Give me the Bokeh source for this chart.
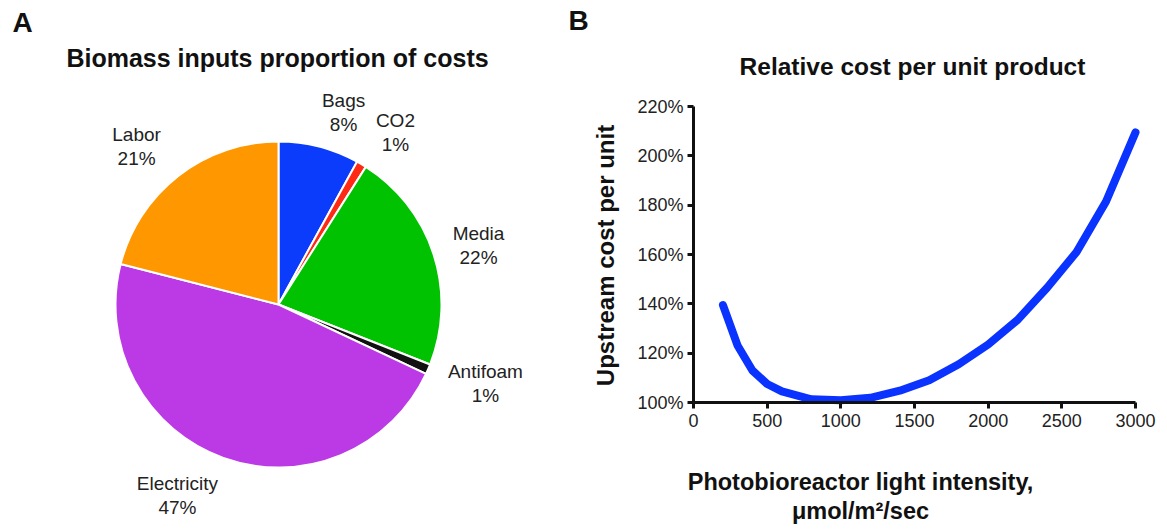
import math
from bokeh.plotting import figure
from bokeh.layouts import row
from bokeh.models import (ColumnDataSource, Range1d, Label, FixedTicker,
                          PrintfTickFormatter)
from bokeh.core.properties import value
from bokeh.embed import file_html
from bokeh.resources import INLINE

# ---------------- data ----------------
pie_labels = ["Bags", "CO2", "Media", "Antifoam", "Electricity", "Labor"]
pie_values = [8, 1, 22, 1, 47, 21]
pie_colors = ["#0b3cfc", "#ff2a14", "#00c200", "#111111", "#bb3ae6", "#ff9700"]

light = [200, 300, 400, 500, 600, 800, 1000, 1200, 1400, 1600, 1800,
         2000, 2200, 2400, 2600, 2800, 3000]
cost = [139.5, 123.0, 113.0, 107.5, 104.5, 101.3, 100.9, 101.9, 104.8,
        109.0, 115.5, 123.5, 133.5, 146.5, 161.0, 181.5, 209.5]

x_ticks = [0, 500, 1000, 1500, 2000, 2500, 3000]
y_ticks = [100, 120, 140, 160, 180, 200, 220]

FONT = "Liberation Sans"
H = 529
W_A, W_B = 560, 607

# ---------------- panel A: pie (1 data unit = 1 px, origin at pie centre) ----------------
CX, CY, R = 278, 304, 163
pa = figure(width=W_A, height=H, output_backend="svg", toolbar_location=None,
            x_range=Range1d(-CX, W_A - CX), y_range=Range1d(CY - H, CY),
            x_axis_location=None, y_axis_location=None, min_border=0)
pa.outline_line_color = None
pa.grid.visible = False

total = float(sum(pie_values))
starts, ends, mids = [], [], []
c = 0.0
for v in pie_values:
    c0, c1 = c / total, (c + v) / total
    starts.append(math.pi / 2 - 2 * math.pi * c0)
    ends.append(math.pi / 2 - 2 * math.pi * c1)
    mids.append((c0 + c1) / 2 * 360.0)
    c += v

wsrc = ColumnDataSource(dict(start=starts, end=ends, color=pie_colors))
pa.wedge(x=0, y=0, radius=R, start_angle="start", end_angle="end",
         direction="clock", fill_color="color", line_color="white",
         line_width=2, source=wsrc)

# label layout: distance from centre and angle nudge (degrees)
lab_r = [203, 208, 208.5, 221.5, 216, 212.5]
lab_dt = [4.3, 3.6, 1.6, -2.5, 8.1, -4.1]
lx, ly, lt = [], [], []
for lab, v, m, r, dt in zip(pie_labels, pie_values, mids, lab_r, lab_dt):
    a = math.radians(m + dt)
    lx.append(r * math.sin(a))
    ly.append(r * math.cos(a))
    lt.append(f"{lab}\n{v}%")
lsrc = ColumnDataSource(dict(x=lx, y=ly, t=lt))
pa.text(x="x", y="y", text="t", source=lsrc, text_align="center",
        text_baseline="middle", text_font=value(FONT),
        text_font_size="19px", text_color="#222222", text_line_height=1.15)

def pa_xy(px, py):
    return px - CX, CY - py

ax_, ay_ = pa_xy(22, 22)
pa.add_layout(Label(x=ax_, y=ay_, text="A", text_font=FONT,
                    text_font_style="bold", text_font_size="28px",
                    text_align="center", text_baseline="middle",
                    text_color="#111111"))
tx_, ty_ = pa_xy(277, 57)
pa.add_layout(Label(x=tx_, y=ty_, text="Biomass inputs proportion of costs",
                    text_font=FONT, text_font_style="bold",
                    text_font_size="25px", text_align="center",
                    text_baseline="middle", text_color="#111111"))

# ---------------- panel B: line ----------------
FX0 = W_A                      # page x of panel B's left edge
X0P, X1P = 693, 1135           # page x of 0 and 3000
Y0P, Y1P = 402, 106            # page y of 100% and 220%
sx = (x_ticks[-1] - x_ticks[0]) / (X1P - X0P)
sy = (y_ticks[-1] - y_ticks[0]) / (Y0P - Y1P)

def bx(px):
    return x_ticks[0] + (px - X0P) * sx

def by(py):
    return y_ticks[0] + (Y0P - py) * sy

pb = figure(width=W_B, height=H, output_backend="svg", toolbar_location=None,
            x_range=Range1d(bx(FX0), bx(FX0 + W_B)),
            y_range=Range1d(by(H), by(0)), min_border=0)
pb.outline_line_color = None
pb.grid.visible = False

pb.line(light, cost, line_width=8, line_color="#0a33ff",
        line_cap="round", line_join="round")

pb.xaxis.fixed_location = y_ticks[0]
pb.yaxis.fixed_location = x_ticks[0]
pb.xaxis.bounds = (x_ticks[0], x_ticks[-1])
pb.yaxis.bounds = (y_ticks[0], y_ticks[-1])

for ax in (pb.xaxis[0], pb.yaxis[0]):
    ax.axis_line_width = 3
    ax.axis_line_color = "#111111"
    ax.major_tick_line_width = 3
    ax.major_tick_line_color = "#111111"
    ax.major_tick_out = 6
    ax.major_tick_in = 0
    ax.minor_tick_line_color = None
    ax.major_label_text_font = FONT
    ax.major_label_text_font_size = "18px"
    ax.major_label_text_color = "#222222"

pb.xaxis.ticker = FixedTicker(ticks=x_ticks)
pb.yaxis.ticker = FixedTicker(ticks=y_ticks)
pb.yaxis.formatter = PrintfTickFormatter(format="%d%%")
pb.xaxis.major_label_standoff = 5
pb.yaxis.major_label_standoff = 4

pb.add_layout(Label(x=bx(605), y=by(255), text="Upstream cost per unit",
                    angle=math.pi / 2, text_font=FONT, text_font_style="bold",
                    text_font_size="24px", text_align="center",
                    text_baseline="middle", text_color="#111111"))
pb.add_layout(Label(x=bx(860), y=by(496),
                    text="Photobioreactor light intensity,\nμmol/m²/sec",
                    text_font=FONT, text_font_style="bold",
                    text_font_size="23.5px", text_align="center",
                    text_baseline="middle", text_color="#111111",
                    text_line_height=1.1))
pb.add_layout(Label(x=bx(912), y=by(66), text="Relative cost per unit product",
                    text_font=FONT, text_font_style="bold",
                    text_font_size="24.5px", text_align="center",
                    text_baseline="middle", text_color="#111111"))
pb.add_layout(Label(x=bx(578), y=by(20), text="B", text_font=FONT,
                    text_font_style="bold", text_font_size="28px",
                    text_align="center", text_baseline="middle",
                    text_color="#111111"))

layout = row(pa, pb)
open("out.html", "w").write(file_html(layout, INLINE))
